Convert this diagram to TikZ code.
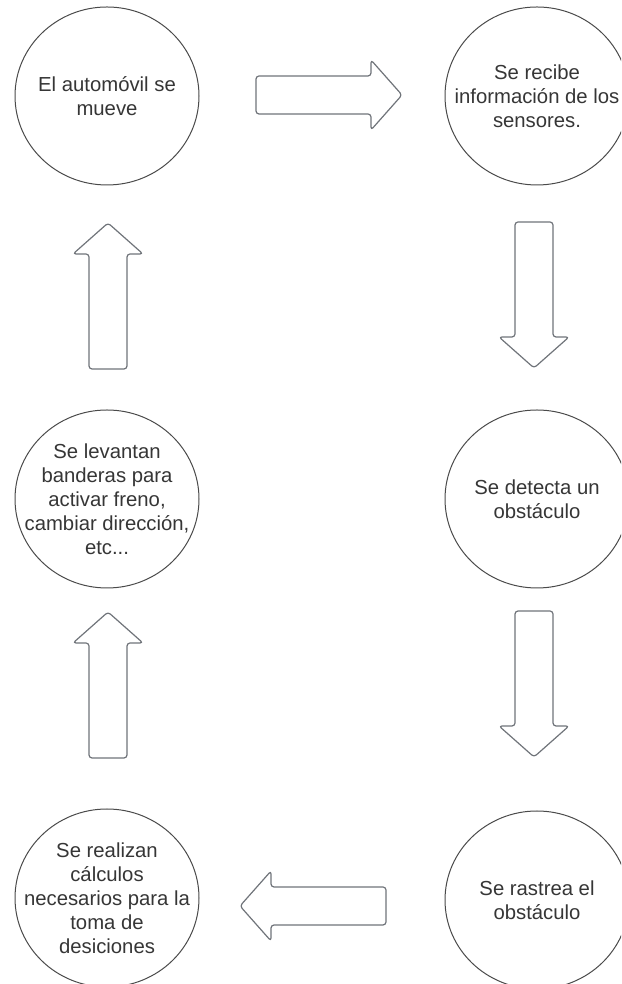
\documentclass[tikz,border=0pt]{standalone}
\usepackage{fontspec}
\setmainfont{Liberation Sans}
\usetikzlibrary{shapes.geometric}
\definecolor{circline}{HTML}{4A4A4A}
\definecolor{arrline}{HTML}{70747A}
\definecolor{txt}{HTML}{363636}
\tikzset{
  stepcircle/.style={ellipse, draw=circline, line width=1pt, minimum width=184pt, minimum height=178pt, inner sep=0pt},
  steptext/.style={align=center, text=txt, inner sep=0pt, font=\fontsize{20.3}{24}\selectfont},
  arrline/.style={draw=arrline, line width=1.2pt, rounded corners=3pt, line join=round},
  blockarr/.pic={\path[arrline] (0,-19) -- (115,-19) -- (115,-35) -- (146,0) -- (115,35) -- (115,19) -- (0,19) -- cycle;}
}
\begin{document}
\begin{tikzpicture}[x=1pt,y=1pt]
\useasboundingbox (0,0) rectangle (621,984);
\clip (0,0) rectangle (621,984);
\fill[white] (0,0) rectangle (621,984);
\node[stepcircle] (auto) at (107,888) {};
\node[steptext] (autot) at (auto.center) {El automóvil se\\mueve};
\node[stepcircle] (recibe) at (537,888) {};
\node[steptext] (recibet) at (recibe.center) {Se recibe\\información de los\\sensores.};
\node[stepcircle] (banderas) at (107,485) {};
\node[steptext] (banderast) at (banderas.center) {Se levantan\\banderas para\\activar freno,\\cambiar dirección,\\etc...};
\node[stepcircle] (detecta) at (537,485) {};
\node[steptext] (detectat) at (detecta.center) {Se detecta un\\obstáculo};
\node[stepcircle] (calculos) at (107,86) {};
\node[steptext] (calculost) at (calculos.center) {Se realizan\\cálculos\\necesarios para la\\toma de\\desiciones};
\node[stepcircle] (rastrea) at (537,84) {};
\node[steptext] (rastreat) at (rastrea.center) {Se rastrea el\\obstáculo};
\pic at (256,889) {blockarr};
\pic[rotate=-90] at (534,762) {blockarr};
\pic[rotate=-90] at (534,373) {blockarr};
\pic[rotate=180] at (386,78) {blockarr};
\pic[rotate=90] at (108,226) {blockarr};
\pic[rotate=90] at (108,615) {blockarr};
\end{tikzpicture}
\end{document}
